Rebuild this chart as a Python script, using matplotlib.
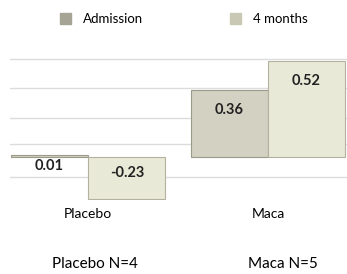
import matplotlib
matplotlib.use("Agg")
import matplotlib.pyplot as plt
import numpy as np

grupos = ["Placebo", "Maca"]
series = ["Admission", "4 months"]
admision = [0.01, 0.36]
cuatro_meses = [-0.23, 0.52]
pies = ["Placebo N=4", "Maca N=5"]

color_adm = "#d3d1c1"
color_4m = "#e9e9d8"
leyenda_adm = "#a6a494"
leyenda_4m = "#c8c8b4"

plt.rcParams["font.family"] = ["Lato", "DejaVu Sans"]

fig = plt.figure(figsize=(3.47, 2.74), dpi=100)
ax = fig.add_axes([10 / 347, 1 - 200 / 274, 337 / 347, 145 / 274])

x = np.arange(len(grupos))
ancho = 0.43
b1 = ax.bar(x - ancho / 2, admision, ancho, color=color_adm, edgecolor="#9c9a8a", linewidth=0.8, zorder=3)
b2 = ax.bar(x + ancho / 2, cuatro_meses, ancho, color=color_4m, edgecolor="#b3b2a0", linewidth=0.8, zorder=3)

ax.set_xlim(-0.435, 1.44)
ax.set_ylim(-0.235, 0.55)
ax.set_yticks([-0.11, 0.07, 0.21, 0.37, 0.53])
ax.yaxis.grid(True, color="#dcdcdc", linewidth=1)
ax.set_axisbelow(True)
ax.set_xticks(x)
ax.set_xticklabels(grupos, fontsize=10)
ax.tick_params(left=False, bottom=False, labelleft=False, pad=2)
for lado in ax.spines.values():
    lado.set_visible(False)

# etiquetas de valores
for barras, valores in [(b1, admision), (b2, cuatro_meses)]:
    for barra, v in zip(barras, valores):
        cx = barra.get_x() + barra.get_width() / 2
        if 0 < v < 0.05:
            y = -0.05
        elif v < 0:
            y = -0.09
        else:
            y = v - 0.11
        ax.text(cx, y, f"{v:.2f}", ha="center", va="center", fontsize=10.5,
                fontweight="bold", color="#222222", zorder=5)

# leyenda
for px, color, nombre in [(65, leyenda_adm, series[0]), (235, leyenda_4m, series[1])]:
    fig.patches.append(plt.Rectangle((px / 347 - 5 / 347, 1 - 24 / 274), 11 / 347, 11 / 274,
                                     transform=fig.transFigure, color=color))
    fig.text((px + 18) / 347, 1 - 19 / 274, nombre, ha="left", va="center", fontsize=9.5)

fig.text(95 / 347, 1 - 264 / 274, pies[0], ha="center", va="center", fontsize=11)
fig.text(283 / 347, 1 - 264 / 274, pies[1], ha="center", va="center", fontsize=11)

fig.savefig("out.png", dpi=100)
